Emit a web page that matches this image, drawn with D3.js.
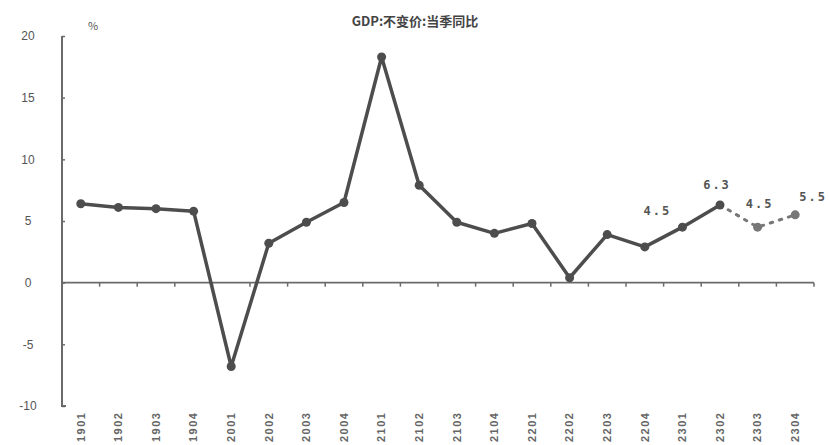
<!DOCTYPE html>
<html><head><meta charset="utf-8">
<script src="https://cdn.jsdelivr.net/npm/d3@7"></script>
<style>body{margin:0;background:#fff}svg{display:block}</style>
</head><body><svg id="c" width="829" height="445"></svg>
<script>
const categories = ["1901","1902","1903","1904","2001","2002","2003","2004","2101","2102","2103","2104","2201","2202","2203","2204","2301","2302","2303","2304"];
const actualValues = [6.4,6.1,6.0,5.8,-6.8,3.2,4.9,6.5,18.3,7.9,4.9,4.0,4.8,0.4,3.9,2.9,4.5,6.3,null,null];
const forecastValues = [null,null,null,null,null,null,null,null,null,null,null,null,null,null,null,null,null,6.3,4.5,5.5];
const labelIdx = [16,17,18,19];
const labelText = ["4.5","6.3","4.5","5.5"];
const yTicks = [-10,-5,0,5,10,15,20];
const title = "GDP:不变价:当季同比";

const svg = d3.select("#c");
const L = 62, R = 814, T = 36, B = 406;
const x = d3.scaleBand().domain(categories).range([L, R]);
const y = d3.scaleLinear().domain([-10, 20]).range([B, T]);
const cx = d => x(d) + x.bandwidth() / 2;
const axisCol = "#6b6b6b", lineCol = "#4d4d4d", textCol = "#555";

// title
svg.append("text").attr("x", 415).attr("y", 26).attr("text-anchor", "middle")
  .attr("font-family", "Noto Sans CJK SC").attr("font-size", 13).attr("font-weight", "bold")
  .attr("fill", "#444").text(title);
svg.append("text").attr("x", 88).attr("y", 30).attr("font-family", "Noto Sans CJK SC")
  .attr("font-size", 11).attr("fill", "#555").text("%");

// y axis
const ya = svg.append("g").attr("transform", `translate(${L},0)`)
  .call(d3.axisRight(y).tickValues(yTicks).tickSize(3).tickFormat(d => d));
ya.select(".domain").attr("stroke", axisCol).attr("stroke-width", 2).attr("d", `M0,${T}V${B}h4`);
ya.selectAll(".tick line").attr("stroke", axisCol).attr("stroke-width", 1.5);
ya.selectAll(".tick text").attr("x", -34).attr("text-anchor", "middle")
  .attr("font-family", "Liberation Sans").attr("font-size", 12).attr("fill", textCol);

// zero line with category boundary ticks
svg.append("line").attr("x1", L).attr("x2", R).attr("y1", y(0)).attr("y2", y(0))
  .attr("stroke", axisCol).attr("stroke-width", 1.8);
svg.append("g").selectAll("line").data(categories).join("line")
  .attr("x1", d => x(d) + x.bandwidth()).attr("x2", d => x(d) + x.bandwidth())
  .attr("y1", y(0)).attr("y2", y(0) + 4).attr("stroke", axisCol).attr("stroke-width", 1.5);

// x labels rotated
const xa = svg.append("g").attr("transform", `translate(0,${B})`)
  .call(d3.axisBottom(x).tickSize(0).tickPadding(0));
xa.select(".domain").remove();
xa.selectAll(".tick text").attr("transform", "rotate(-90)").attr("text-anchor", "end")
  .attr("x", -4).attr("y", 0).attr("dy", "0.35em").attr("dx", 0)
  .attr("font-family", "Liberation Sans").attr("font-size", 11).attr("font-weight", "bold")
  .attr("letter-spacing", 1.5).attr("fill", "#666");
xa.selectAll(".tick text").attr("x", -36).attr("text-anchor", "start");

// lines
const line = d3.line().defined(d => d[1] != null).x(d => cx(d[0])).y(d => y(d[1]));
svg.append("path").datum(categories.map((c, i) => [c, actualValues[i]]))
  .attr("d", line).attr("fill", "none").attr("stroke", lineCol).attr("stroke-width", 3.5)
  .attr("stroke-linejoin", "round");
svg.append("path").datum(categories.map((c, i) => [c, forecastValues[i]]))
  .attr("d", line).attr("fill", "none").attr("stroke", "#777").attr("stroke-width", 3)
  .attr("stroke-dasharray", "2.5,7").attr("stroke-linecap", "round");

// markers
svg.append("g").selectAll("circle").data(categories.map((c, i) => [c, actualValues[i]]).filter(d => d[1] != null))
  .join("circle").attr("cx", d => cx(d[0])).attr("cy", d => y(d[1])).attr("r", 4.5).attr("fill", lineCol);
svg.append("g").selectAll("circle").data(categories.map((c, i) => [c, forecastValues[i]]).filter((d, i) => d[1] != null && actualValues[i] == null))
  .join("circle").attr("cx", d => cx(d[0])).attr("cy", d => y(d[1])).attr("r", 4.5).attr("fill", "#777");

// data labels
const offs = [[-25, -12], [-3, -16], [2, -19], [18, -14]];
svg.append("g").selectAll("text").data(labelIdx).join("text")
  .attr("x", (d, i) => cx(categories[d]) + offs[i][0])
  .attr("y", (d, i) => y(d === 16 ? actualValues[d] : forecastValues[d]) + offs[i][1])
  .attr("text-anchor", "middle").attr("font-family", "DejaVu Sans Mono").attr("font-size", 12)
  .attr("font-weight", "bold").attr("letter-spacing", 2).attr("fill", "#555")
  .text((d, i) => labelText[i]);
</script></body></html>
